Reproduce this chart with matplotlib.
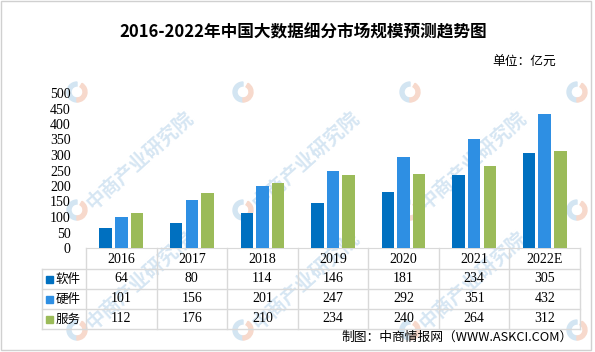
import matplotlib
matplotlib.use("Agg")
import matplotlib.pyplot as plt
from matplotlib.patches import Rectangle, Wedge
from matplotlib.lines import Line2D

plt.rcParams['font.family'] = ['Noto Sans CJK SC', 'DejaVu Sans']

# data
years = ["2016", "2017", "2018", "2019", "2020", "2021", "2022E"]
software = [64, 80, 114, 146, 181, 234, 305]
hardware = [101, 156, 201, 247, 292, 351, 432]
service = [112, 176, 210, 234, 240, 264, 312]
series_names = ["软件", "硬件", "服务"]
colors = ["#0070C0", "#2E8FE3", "#9BBB59"]
yticks = [0, 50, 100, 150, 200, 250, 300, 350, 400, 450, 500]

W, H = 595, 352
fig = plt.figure(figsize=(W / 100, H / 100), dpi=100)

# plot area in pixel coords
x0, x1 = 86, 580
y_zero, y_top = 248, 93
ax = fig.add_axes([x0 / W, 1 - y_zero / H, (x1 - x0) / W, (y_zero - y_top) / H])
ax.set_zorder(2)
ax.patch.set_alpha(0)

n = len(years)
idx = list(range(n))
bw = 0.177
off = 0.222
for k, vals in enumerate([software, hardware, service]):
    ax.bar([i + (k - 1) * off for i in idx], vals, width=bw, color=colors[k], zorder=3)

ax.set_xlim(-0.5, n - 0.5)
ax.set_ylim(0, 500)
ax.set_yticks(yticks)
ax.set_yticklabels([str(t) for t in yticks], family=['Liberation Serif'], fontsize=10)
ax.tick_params(axis='y', length=0, pad=11)
ax.set_xticks([])
for s in ["left", "right", "top"]:
    ax.spines[s].set_visible(False)
ax.spines["bottom"].set_color("#D9D9D9")

# overlay in pixel coords for table, title, watermark
ov = fig.add_axes([0, 0, 1, 1])
ov.set_xlim(0, W)
ov.set_ylim(H, 0)
ov.axis("off")
ov.set_zorder(1)

# watermark (logos everywhere, text only where it fits inside the picture)
wm_color = "#D6E6F3"
for lx in [-90, 77, 243, 410, 577]:
    for ly in [92, 210, 330]:
        ov.add_patch(Wedge((lx, ly), 10, 90, 270, width=4, color="#D3E5F2", zorder=0))
        ov.add_patch(Wedge((lx, ly), 10, -60, 90, width=4, color="#F7D9CC", zorder=0))
        if lx in (77, 243, 410) and ly > 100:
            ov.text(lx + 12, ly - 4, "中商产业研究院", rotation=42, rotation_mode='anchor',
                    ha='left', va='center', fontsize=14, color=wm_color,
                    fontweight='bold', zorder=0)

# title
ov.text(303, 32, "2016-2022年中国大数据细分市场规模预测趋势图", ha='center', va='center',
        fontsize=12, fontweight='bold', color="black", zorder=3)
ov.text(556, 62, "单位：亿元", ha='right', va='center', fontsize=9.2, zorder=3)

# table
grid = "#D9D9D9"
col_w = (x1 - x0) / n
row_y = [248, 269, 289, 309, 329]
lab_x = 42
for ry in row_y[1:]:
    ov.add_line(Line2D([lab_x, x1], [ry, ry], color=grid, lw=1, zorder=3))
for i in range(n + 1):
    cx = x0 + i * col_w
    ov.add_line(Line2D([cx, cx], [row_y[0], row_y[-1]], color=grid, lw=1, zorder=3))
ov.add_line(Line2D([lab_x, lab_x], [row_y[1], row_y[-1]], color=grid, lw=1, zorder=3))

for i, yr in enumerate(years):
    cx = x0 + (i + 0.5) * col_w
    ov.text(cx, (row_y[0] + row_y[1]) / 2 + 1, yr, ha='center', va='center',
            family=['Liberation Serif'], fontsize=10, zorder=4)
    for r, vals in enumerate([software, hardware, service]):
        ov.text(cx, (row_y[r + 1] + row_y[r + 2]) / 2, str(vals[i]), ha='center', va='center',
                family=['Liberation Serif'], fontsize=10, zorder=4)

for r, name in enumerate(series_names):
    cy = (row_y[r + 1] + row_y[r + 2]) / 2
    ov.add_patch(Rectangle((45.5, cy - 3.5), 7, 7, color=colors[r], zorder=4))
    ov.text(56, cy, name, ha='left', va='center', fontsize=9, zorder=4)

ov.text(573, 337, "制图：中商情报网（WWW.ASKCI.COM）", ha='right', va='center', fontsize=9.2, zorder=4)

# border
ov.add_patch(Rectangle((1, 1), 590, 349, fill=False, edgecolor="#D0D0D0", lw=1, zorder=5))

fig.savefig("out.png", dpi=100)
